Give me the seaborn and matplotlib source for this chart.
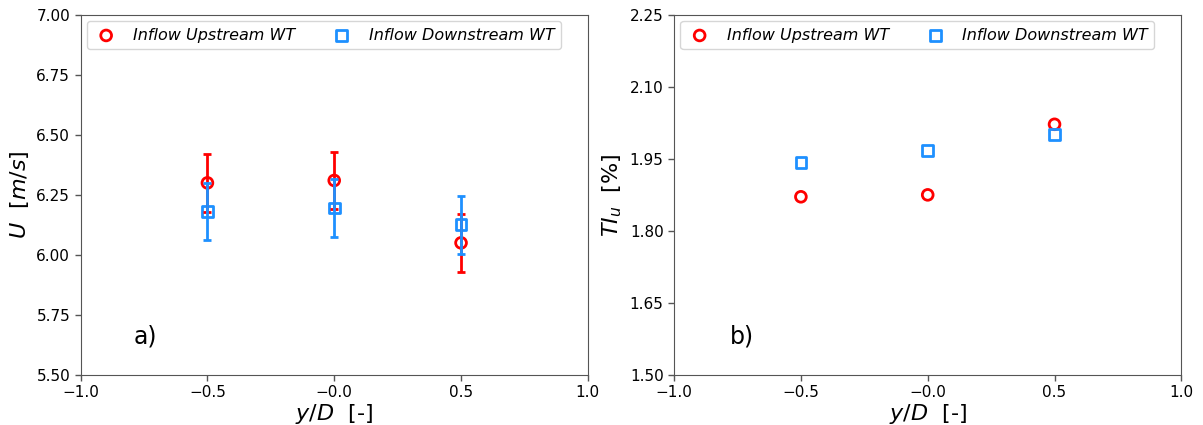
import matplotlib
matplotlib.use('Agg')
import matplotlib.pyplot as plt
import pandas as pd
import seaborn as sns

# Data
positions = [-0.5, 0.0, 0.5]
u_up = [6.30, 6.31, 6.05]
u_up_err = [0.12, 0.12, 0.12]
u_down = [6.18, 6.195, 6.125]
u_down_err = [0.12, 0.12, 0.12]
ti_up = [1.871, 1.875, 2.022]
ti_down = [1.943, 1.968, 2.000]
labels = ['Inflow Upstream WT', 'Inflow Downstream WT']

sns.set_style('white')
plt.rcParams['font.family'] = ['DejaVu Sans']
plt.rcParams['xtick.bottom'] = True
plt.rcParams['ytick.left'] = True
plt.rcParams['text.color'] = 'black'
plt.rcParams['axes.labelcolor'] = 'black'
plt.rcParams['xtick.color'] = 'black'
plt.rcParams['ytick.color'] = 'black'

red = '#ff0000'
blue = '#1e90ff'

df_u = pd.DataFrame({
    'pos': positions * 2,
    'val': u_up + u_down,
    'err': u_up_err + u_down_err,
    'case': [labels[0]] * 3 + [labels[1]] * 3,
})
df_ti = pd.DataFrame({
    'pos': positions * 2,
    'val': ti_up + ti_down,
    'case': [labels[0]] * 3 + [labels[1]] * 3,
})

fig, (ax1, ax2) = plt.subplots(ncols=2, figsize=(12.03, 4.25), dpi=100)
fig.subplots_adjust(left=0.067, right=0.982, top=0.965, bottom=0.118, wspace=0.17)

palette = {labels[0]: red, labels[1]: blue}
markers = {labels[0]: 'o', labels[1]: 's'}


def draw(ax, df, with_err):
    for case in labels:
        sub = df[df['case'] == case]
        if with_err:
            ax.errorbar(sub['pos'], sub['val'], yerr=sub['err'], fmt='none',
                        ecolor=palette[case], elinewidth=2, capsize=3, capthick=2)
        sns.scatterplot(data=sub, x='pos', y='val', ax=ax, marker=markers[case],
                        s=60, facecolor='none', edgecolor=palette[case],
                        linewidth=2, label=case)
    ax.set_xlim(-1.0, 1.0)
    ax.set_xticks([-1.0, -0.5, 0.0, 0.5, 1.0])
    ax.set_xticklabels(['\u22121.0', '\u22120.5', '\u22120.0', '0.5', '1.0'])
    ax.tick_params(labelsize=11, length=4, width=1, color='#555555')
    for s in ax.spines.values():
        s.set_color('#555555')
    ax.set_xlabel('$y/D$  [-]', fontsize=16, labelpad=1)
    leg = ax.legend(loc='upper left', ncol=2, fontsize=11.5, columnspacing=2.1,
                    handletextpad=0.9, handlelength=1.6, borderaxespad=0.4,
                    frameon=True)
    for t in leg.get_texts():
        t.set_style('italic')


draw(ax1, df_u, True)
ax1.set_ylim(5.5, 7.0)
ax1.set_yticks([5.5, 5.75, 6.0, 6.25, 6.5, 6.75, 7.0])
ax1.set_yticklabels(['5.50', '5.75', '6.00', '6.25', '6.50', '6.75', '7.00'])
ax1.set_ylabel('$U$  $[m/s]$', fontsize=16)
ax1.text(-0.79, 5.63, 'a)', fontsize=17)

draw(ax2, df_ti, False)
ax2.set_ylim(1.5, 2.25)
ax2.set_yticks([1.5, 1.65, 1.8, 1.95, 2.1, 2.25])
ax2.set_yticklabels(['1.50', '1.65', '1.80', '1.95', '2.10', '2.25'])
ax2.set_ylabel('$TI_u$  [%]', fontsize=16)
ax2.text(-0.78, 1.565, 'b)', fontsize=17)

fig.savefig('out.png', dpi=100)
